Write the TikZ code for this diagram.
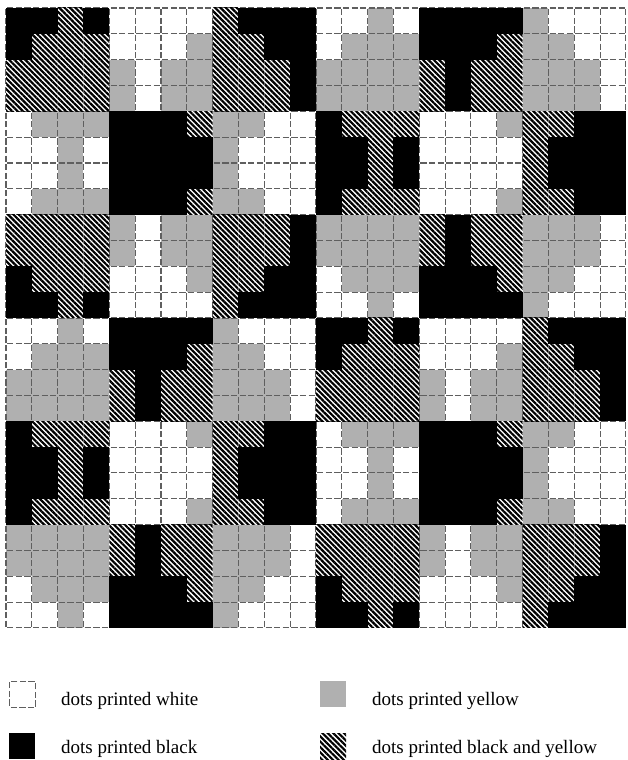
\documentclass[tikz,border=0pt]{standalone}
\usepackage{fontspec}
\setmainfont{Liberation Serif}
\usepackage{xcolor}
\usetikzlibrary{patterns.meta}
\definecolor{dotgray}{RGB}{176,176,176}
\definecolor{gridgray}{RGB}{95,95,95}
\newcommand{\cellsz}{25.83}
% one row per line of dots, B black, H black and yellow, Y yellow, W white
\newcommand{\dotrows}{%
  {B,B,H,B, W,W,W,W, H,B,B,B, W,W,Y,W, B,B,B,B, Y,W,W,W},
  {B,H,H,H, W,W,W,Y, H,H,B,B, W,Y,Y,Y, B,B,B,H, Y,Y,W,W},
  {H,H,H,H, Y,W,Y,Y, H,H,H,B, Y,Y,Y,Y, H,B,H,H, Y,Y,Y,W},
  {H,H,H,H, Y,W,Y,Y, H,H,H,B, Y,Y,Y,Y, H,B,H,H, Y,Y,Y,W},
  {W,Y,Y,Y, B,B,B,H, Y,Y,W,W, B,H,H,H, W,W,W,Y, H,H,B,B},
  {W,W,Y,W, B,B,B,B, Y,W,W,W, B,B,H,B, W,W,W,W, H,B,B,B},
  {W,W,Y,W, B,B,B,B, Y,W,W,W, B,B,H,B, W,W,W,W, H,B,B,B},
  {W,Y,Y,Y, B,B,B,H, Y,Y,W,W, B,H,H,H, W,W,W,Y, H,H,B,B},
  {H,H,H,H, Y,W,Y,Y, H,H,H,B, Y,Y,Y,Y, H,B,H,H, Y,Y,Y,W},
  {H,H,H,H, Y,W,Y,Y, H,H,H,B, Y,Y,Y,Y, H,B,H,H, Y,Y,Y,W},
  {B,H,H,H, W,W,W,Y, H,H,B,B, W,Y,Y,Y, B,B,B,H, Y,Y,W,W},
  {B,B,H,B, W,W,W,W, H,B,B,B, W,W,Y,W, B,B,B,B, Y,W,W,W},
  {W,W,Y,W, B,B,B,B, Y,W,W,W, B,B,H,B, W,W,W,W, H,B,B,B},
  {W,Y,Y,Y, B,B,B,H, Y,Y,W,W, B,H,H,H, W,W,W,Y, H,H,B,B},
  {Y,Y,Y,Y, H,B,H,H, Y,Y,Y,W, H,H,H,H, Y,W,Y,Y, H,H,H,B},
  {Y,Y,Y,Y, H,B,H,H, Y,Y,Y,W, H,H,H,H, Y,W,Y,Y, H,H,H,B},
  {B,H,H,H, W,W,W,Y, H,H,B,B, W,Y,Y,Y, B,B,B,H, Y,Y,W,W},
  {B,B,H,B, W,W,W,W, H,B,B,B, W,W,Y,W, B,B,B,B, Y,W,W,W},
  {B,B,H,B, W,W,W,W, H,B,B,B, W,W,Y,W, B,B,B,B, Y,W,W,W},
  {B,H,H,H, W,W,W,Y, H,H,B,B, W,Y,Y,Y, B,B,B,H, Y,Y,W,W},
  {Y,Y,Y,Y, H,B,H,H, Y,Y,Y,W, H,H,H,H, Y,W,Y,Y, H,H,H,B},
  {Y,Y,Y,Y, H,B,H,H, Y,Y,Y,W, H,H,H,H, Y,W,Y,Y, H,H,H,B},
  {W,Y,Y,Y, B,B,B,H, Y,Y,W,W, B,H,H,H, W,W,W,Y, H,H,B,B},
  {W,W,Y,W, B,B,B,B, Y,W,W,W, B,B,H,B, W,W,W,W, H,B,B,B}}
\tikzset{
  gridline/.style={draw=gridgray, line width=1.1pt,
                   dash pattern=on 6.2pt off 2.41pt, dash phase=7.4pt},
  hatch/.style={preaction={fill=white},
                pattern={Lines[angle=-45, distance=3.8pt, line width=2.2pt]},
                pattern color=black},
  baseY/.style={fill=dotgray}, baseB/.style={}, baseH/.style={}, baseW/.style={},
  topY/.style={}, topB/.style={fill=black}, topH/.style={hatch}, topW/.style={},
  keybox/.style={rectangle, minimum size=26pt, inner sep=0pt, anchor=north west},
  keytext/.style={anchor=base west, inner sep=0pt, font=\fontsize{19}{22}\selectfont},
}

\begin{document}
\begin{tikzpicture}[x=1pt, y=-1pt]
\useasboundingbox (0,0) rectangle (627,760);

% YELLOW DOTS
\foreach \cells [count=\r from 0] in \dotrows {
  \foreach \c [count=\k from 0] in \cells {
    \path[base\c] ({6+\k*\cellsz},{8+\r*\cellsz}) rectangle ++(\cellsz,\cellsz);
  }
}

% DASHED GRID
\foreach \i in {0,...,24} {
  \draw[gridline] ({6+\i*\cellsz},8) -- ({6+\i*\cellsz},{8+24*\cellsz});
  \draw[gridline] (6,{8+\i*\cellsz}) -- ({6+24*\cellsz},{8+\i*\cellsz});
}

% BLACK AND BLACK+YELLOW DOTS
\foreach \cells [count=\r from 0] in \dotrows {
  \foreach \c [count=\k from 0] in \cells {
    \path[top\c] ({6+\k*\cellsz},{8+\r*\cellsz}) rectangle ++(\cellsz,\cellsz);
  }
}

% KEY
\node[keybox, gridline] (keywhite) at (9,681) {};
\node[keytext] (txtwhite) at (61,705) {dots printed white};
\node[keybox, fill=black] (keyblack) at (9,733) {};
\node[keytext] (txtblack) at (61,753) {dots printed black};
\node[keybox, fill=dotgray] (keyyellow) at (320,681) {};
\node[keytext] (txtyellow) at (372,705) {dots printed yellow};
\node[keybox, hatch] (keyhatch) at (320,733) {};
\node[keytext] (txthatch) at (372,753) {dots printed black and yellow};

\end{tikzpicture}
\end{document}
